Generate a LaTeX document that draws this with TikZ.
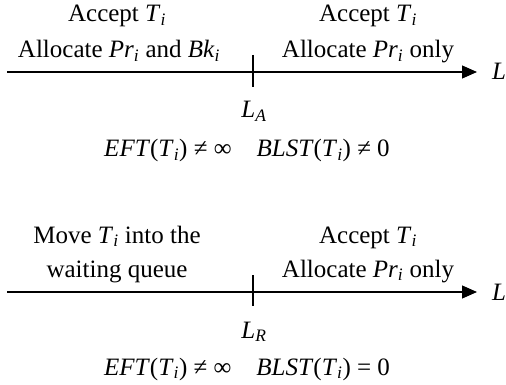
\documentclass[tikz,border=0pt]{standalone}
\usepackage{fontspec}
\setmainfont{Liberation Serif}
\usetikzlibrary{arrows.meta}
\newcommand\vi[2]{\textit{#1}\textsubscript{\textit{#2}}}
\tikzset{
  txt/.style={inner sep=0pt, font=\fontsize{25}{30}\selectfont, anchor=base},
  axis/.style={line width=1.2pt, -{Triangle[length=15pt,width=13pt]}},
  tick/.style={line width=1.2pt}
}
\begin{document}
\begin{tikzpicture}[x=1pt,y=-1pt]
\useasboundingbox (0,0) rectangle (506,385);
% top
\coordinate (a0) at (7,72);
\coordinate (a1) at (477,72);
\draw[axis] (a0) -- (a1);
\coordinate (t0) at (253,55);
\coordinate (t1) at (253,87);
\draw[tick] (t0) -- (t1);
\node[txt] (L1) at (499,80) {\textit{L}};
\node[txt] (acc1) at (117,22) {Accept \vi{T}{i}};
\node[txt] (all1) at (119,58) {Allocate \vi{Pr}{i} and \vi{Bk}{i}};
\node[txt] (acc2) at (368,22) {Accept \vi{T}{i}};
\node[txt] (all2) at (368,58) {Allocate \vi{Pr}{i} only};
\node[txt] (LA) at (254,118) {\vi{L}{A}};
\node[txt] (c1) at (247,157) {\textit{EFT}(\vi{T}{i}) ≠ ∞\quad\textit{BLST}(\vi{T}{i}) ≠ 0};
% bottom
\coordinate (b0) at (7,292);
\coordinate (b1) at (477,292);
\draw[axis] (b0) -- (b1);
\coordinate (u0) at (253,275);
\coordinate (u1) at (253,306);
\draw[tick] (u0) -- (u1);
\node[txt] (L2) at (499,300) {\textit{L}};
\node[txt] (mv) at (117,243) {Move \vi{T}{i} into the};
\node[txt] (wq) at (117,277) {waiting queue};
\node[txt] (acc3) at (368,243) {Accept \vi{T}{i}};
\node[txt] (all3) at (368,277) {Allocate \vi{Pr}{i} only};
\node[txt] (LR) at (254,338) {\vi{L}{R}};
\node[txt] (c2) at (247,375) {\textit{EFT}(\vi{T}{i}) ≠ ∞\quad\textit{BLST}(\vi{T}{i}) = 0};
\end{tikzpicture}
\end{document}
